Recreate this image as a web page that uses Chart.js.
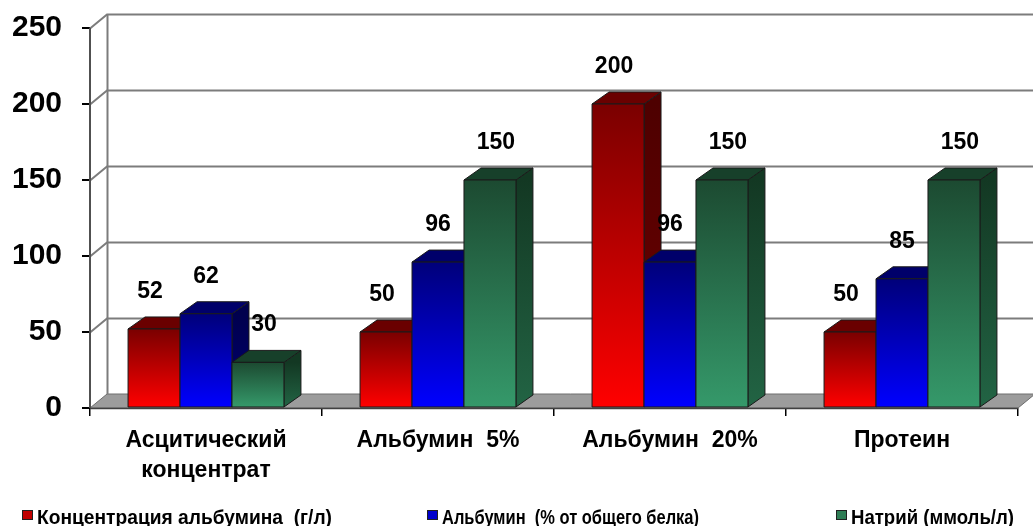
<!DOCTYPE html>
<html>
<head>
<meta charset="utf-8">
<script src="https://cdn.jsdelivr.net/npm/chart.js@4/dist/chart.umd.min.js"></script>
<style>
  html, body { margin: 0; padding: 0; background: #ffffff; }
  #wrap { width: 1033px; height: 526px; }
</style>
</head>
<body>
<div id="wrap"><canvas id="chart" width="1033" height="526"></canvas></div>
<script>
// Categories and series values
const categories = [['Асцитический', 'концентрат'], 'Альбумин  5%', 'Альбумин  20%', 'Протеин'];
const seriesNames = ['Концентрация альбумина  (г/л)', 'Альбумин  (% от общего белка)', 'Натрий (ммоль/л)'];
const albuminConcentration = [52, 50, 200, 50];
const albuminPercent = [62, 96, 96, 85];
const sodium = [30, 150, 150, 150];
const yTicks = [0, 50, 100, 150, 200, 250];

// Face colours for each series: front gradient (top -> bottom), top face, side gradient
const palettes = [
  { frontTop: '#7a0000', frontBottom: '#ff0000', top: '#6a0000', sideTop: '#4e0000', sideBottom: '#6e0000', key: '#c00000', labelShift: -4 },
  { frontTop: '#00007a', frontBottom: '#0000ff', top: '#00006a', sideTop: '#00004e', sideBottom: '#000070', key: '#0000cc', labelShift: 0 },
  { frontTop: '#1c4a31', frontBottom: '#35996a', top: '#17402a', sideTop: '#133823', sideBottom: '#226444', key: '#2e7d55', labelShift: 6 }
];

const WALL_DX = 17, WALL_DY = -14;   // depth of the back wall / floor
const BAR_DX = 17, BAR_DY = -12;     // depth of each column
const FONT = '"Liberation Sans", Arial, sans-serif';

// Back wall, side wall, floor and grid lines
const wallPlugin = {
  id: 'wall3d',
  beforeDatasetsDraw(chart) {
    const { ctx, chartArea: a, scales: { y } } = chart;
    ctx.save();
    const y0 = y.getPixelForValue(0);
    // floor
    ctx.fillStyle = '#9c9c9c';
    ctx.beginPath();
    ctx.moveTo(a.left, y0);
    ctx.lineTo(a.right, y0);
    ctx.lineTo(a.right + WALL_DX, y0 + WALL_DY);
    ctx.lineTo(a.left + WALL_DX, y0 + WALL_DY);
    ctx.closePath();
    ctx.fill();
    ctx.strokeStyle = '#6e6e6e';
    ctx.lineWidth = 1;
    ctx.stroke();

    // grid lines on the side and back walls
    ctx.strokeStyle = '#7c7c7c';
    ctx.lineWidth = 2;
    yTicks.forEach(v => {
      if (v === 0) return;
      const py = Math.round(y.getPixelForValue(v)) + 0.5;
      ctx.beginPath();
      ctx.moveTo(a.left, py);
      ctx.lineTo(a.left + WALL_DX, py + WALL_DY);
      ctx.lineTo(a.right + WALL_DX + 20, py + WALL_DY);
      ctx.stroke();
    });
    // back-left corner of the walls
    ctx.beginPath();
    ctx.moveTo(a.left + WALL_DX + 0.5, y.getPixelForValue(250) + WALL_DY);
    ctx.lineTo(a.left + WALL_DX + 0.5, y0 + WALL_DY);
    ctx.stroke();

    // front vertical axis line
    ctx.strokeStyle = '#505050';
    ctx.lineWidth = 2;
    ctx.beginPath();
    ctx.moveTo(a.left, y.getPixelForValue(250));
    ctx.lineTo(a.left, y0);
    ctx.stroke();
    // front floor edge
    ctx.strokeStyle = '#404040';
    ctx.lineWidth = 1.5;
    ctx.beginPath();
    ctx.moveTo(a.left, y0 + 0.5);
    ctx.lineTo(a.right, y0 + 0.5);
    ctx.stroke();
    ctx.restore();
  }
};

// Columns drawn as boxes: front face, top face and right side face
const boxPlugin = {
  id: 'box3d',
  afterDatasetsDraw(chart) {
    const { ctx } = chart;
    const n = chart.data.labels.length;
    ctx.save();
    ctx.lineJoin = 'round';
    for (let i = 0; i < n; i++) {
      chart.data.datasets.forEach((ds, d) => {
        const bar = chart.getDatasetMeta(d).data[i];
        const p = palettes[d];
        const { x, y, base, width } = bar.getProps(['x', 'y', 'base', 'width'], true);
        const l = x - width / 2, r = x + width / 2;
        ctx.strokeStyle = '#1a1a1a';
        ctx.lineWidth = 1;

        // right side
        let g = ctx.createLinearGradient(0, y, 0, base);
        g.addColorStop(0, p.sideTop);
        g.addColorStop(1, p.sideBottom);
        ctx.fillStyle = g;
        ctx.beginPath();
        ctx.moveTo(r, y);
        ctx.lineTo(r + BAR_DX, y + BAR_DY);
        ctx.lineTo(r + BAR_DX, base + BAR_DY);
        ctx.lineTo(r, base);
        ctx.closePath();
        ctx.fill();
        ctx.stroke();

        // top
        ctx.fillStyle = p.top;
        ctx.beginPath();
        ctx.moveTo(l, y);
        ctx.lineTo(l + BAR_DX, y + BAR_DY);
        ctx.lineTo(r + BAR_DX, y + BAR_DY);
        ctx.lineTo(r, y);
        ctx.closePath();
        ctx.fill();
        ctx.stroke();

        // front
        g = ctx.createLinearGradient(0, y, 0, base);
        g.addColorStop(0, p.frontTop);
        g.addColorStop(1, p.frontBottom);
        ctx.fillStyle = g;
        ctx.beginPath();
        ctx.rect(l, y, width, base - y);
        ctx.fill();
        ctx.stroke();
      });
    }

    // value labels
    ctx.fillStyle = '#000000';
    ctx.font = 'bold 23px ' + FONT;
    ctx.textAlign = 'center';
    ctx.textBaseline = 'alphabetic';
    chart.data.datasets.forEach((ds, d) => {
      chart.getDatasetMeta(d).data.forEach((bar, i) => {
        ctx.fillText(String(ds.data[i]), bar.x + palettes[d].labelShift, bar.y - 31);
      });
    });
    ctx.restore();
  }
};

// Legend row along the bottom; each entry's text is fitted to its column
const legendColumns = [{ x: 22, w: 295 }, { x: 427, w: 257 }, { x: 836, w: 163 }];
const legendPlugin = {
  id: 'legendRow',
  afterDraw(chart) {
    const { ctx } = chart;
    ctx.save();
    const rowY = 524;
    chart.data.datasets.forEach((ds, d) => {
      const col = legendColumns[d];
      ctx.fillStyle = palettes[d].key;
      ctx.strokeStyle = '#202020';
      ctx.lineWidth = 1;
      ctx.fillRect(col.x + 0.5, 510.5, 10, 9);
      ctx.strokeRect(col.x + 0.5, 510.5, 10, 9);
      ctx.fillStyle = '#000000';
      ctx.font = 'bold 21px ' + FONT;
      ctx.textBaseline = 'alphabetic';
      ctx.textAlign = 'left';
      ctx.fillText(ds.label, col.x + 15, rowY, col.w);
    });
    ctx.restore();
  }
};

new Chart(document.getElementById('chart'), {
  type: 'bar',
  data: {
    labels: categories,
    datasets: [
      { label: seriesNames[0], data: albuminConcentration },
      { label: seriesNames[1], data: albuminPercent },
      { label: seriesNames[2], data: sodium }
    ].map(ds => Object.assign(ds, {
      backgroundColor: 'rgba(0,0,0,0)',
      borderWidth: 0,
      categoryPercentage: 0.672,
      barPercentage: 1
    }))
  },
  options: {
    responsive: false,
    devicePixelRatio: 1,
    animation: false,
    layout: { padding: { top: 28, right: 15, left: 0, bottom: 0 } },
    plugins: {
      legend: { display: false },
      tooltip: { enabled: false }
    },
    scales: {
      x: {
        grid: { offset: true, drawOnChartArea: false, drawTicks: true, tickLength: 8, color: '#000000', lineWidth: 1.5 },
        border: { display: false },
        ticks: {
          color: '#000000',
          font: { family: FONT, size: 23, weight: 'bold', lineHeight: 1.33 },
          padding: 9,
          maxRotation: 0,
          autoSkip: false
        },
        afterFit(scale) { scale.height = 118; scale.paddingLeft = 0; scale.paddingRight = 0; }
      },
      y: {
        min: 0,
        max: 250,
        grid: { drawOnChartArea: false, drawTicks: true, tickLength: 8, color: '#000000', lineWidth: 2 },
        border: { display: false },
        ticks: {
          stepSize: 50,
          color: '#000000',
          font: { family: FONT, size: 30, weight: 'bold' },
          padding: 20,
          callback: (v) => yTicks.includes(v) ? String(v) : ''
        },
        afterFit(scale) { scale.width = 90; scale.paddingTop = 0; scale.paddingBottom = 0; }
      }
    }
  },
  plugins: [wallPlugin, boxPlugin, legendPlugin]
});
</script>
</body>
</html>
